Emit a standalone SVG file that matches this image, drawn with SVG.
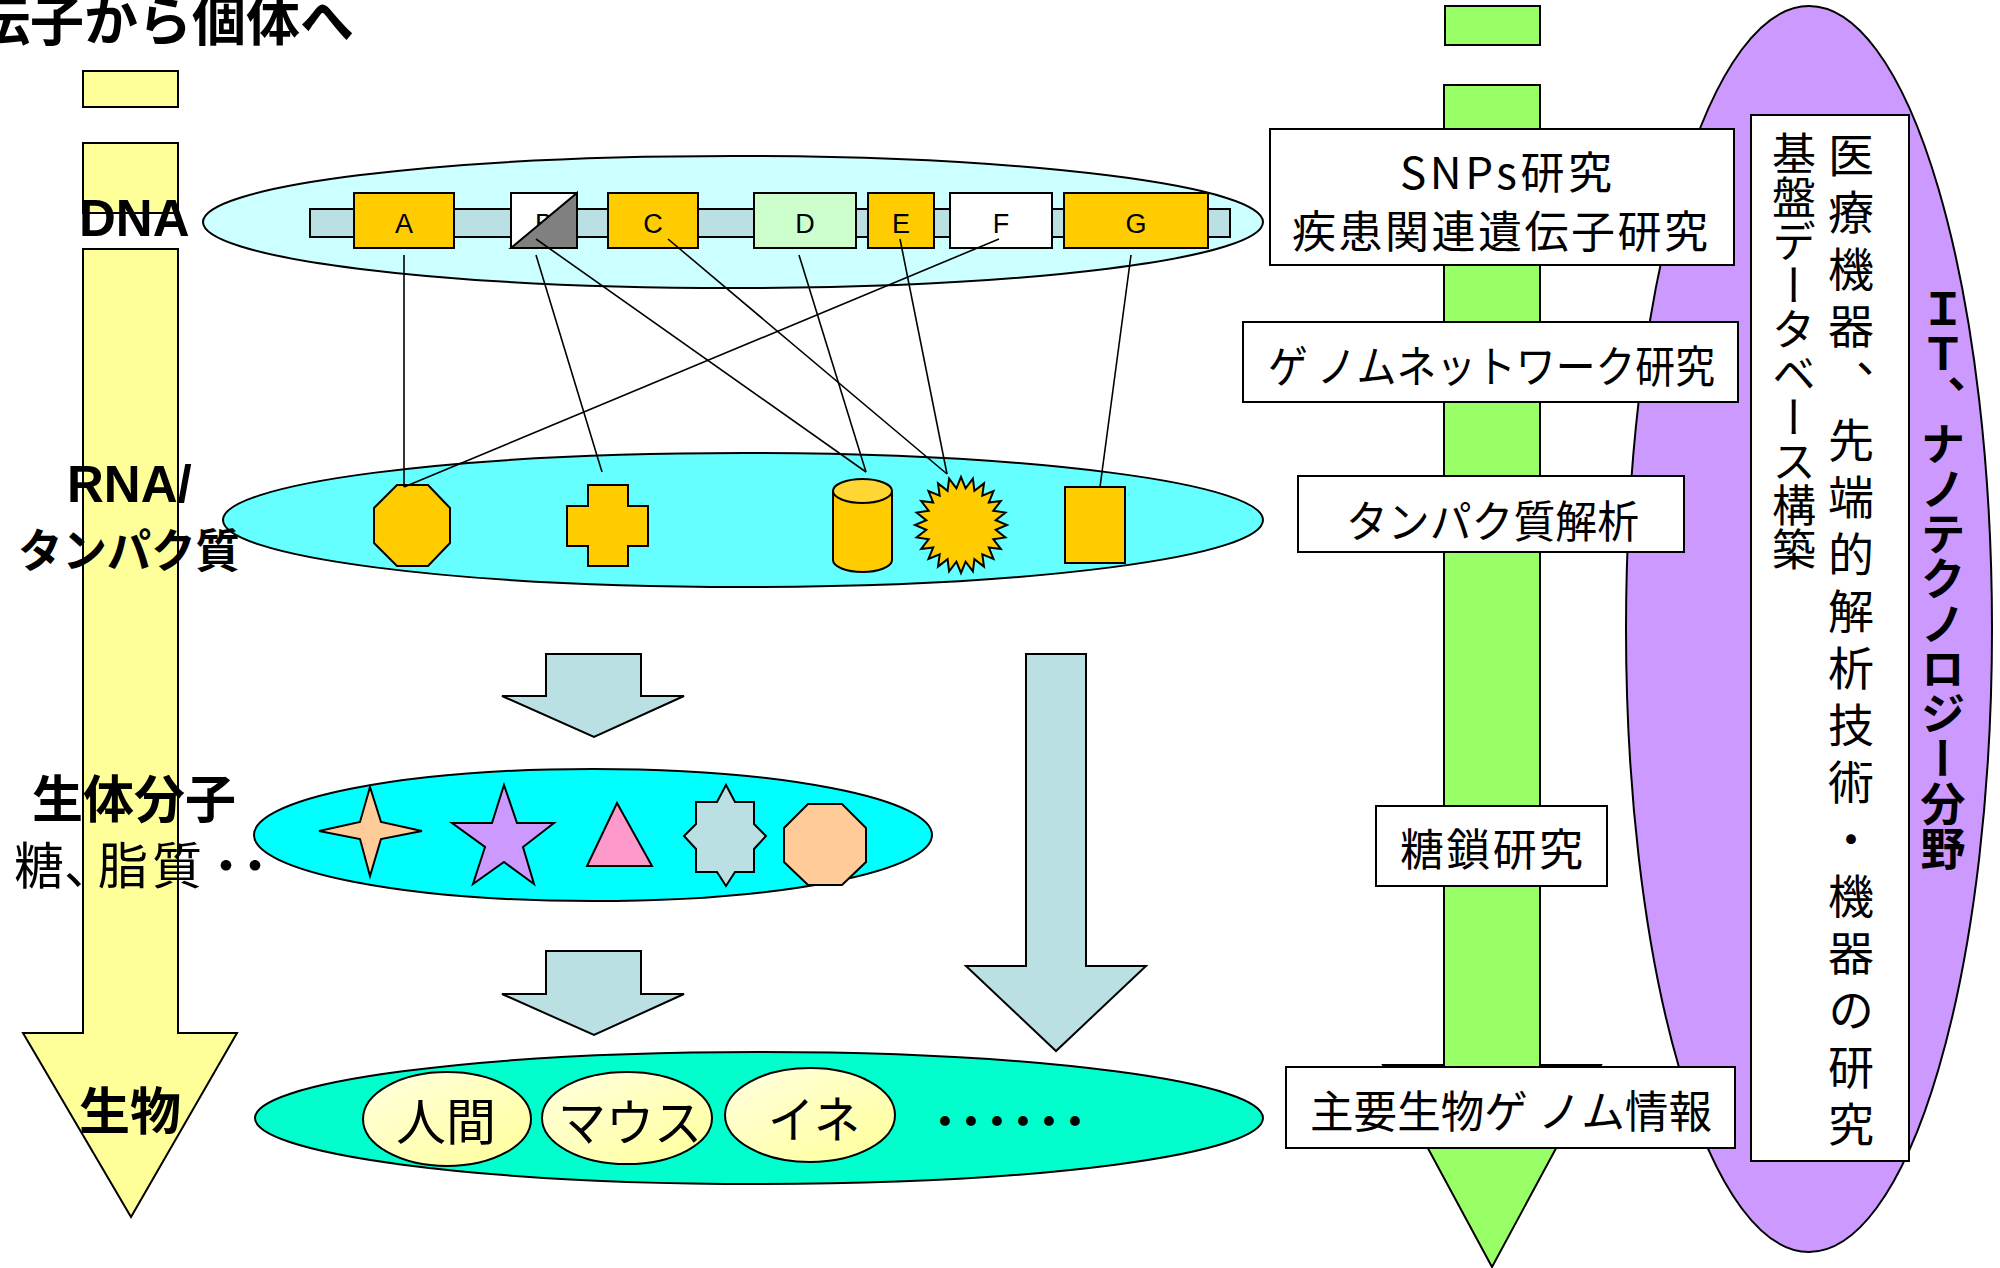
<svg xmlns="http://www.w3.org/2000/svg" width="2000" height="1268" viewBox="0 0 2000 1268">
<style>
.s{stroke:#000;stroke-width:2}
.jp{font-family:"Noto Sans CJK JP","Noto Sans CJK SC",sans-serif;fill:#000}
.b{font-weight:bold}
.lat{font-family:"Liberation Sans",Arial,sans-serif;fill:#000}
.ln{stroke:#000;stroke-width:1.6;fill:none}
.gene{font-family:"Liberation Sans",Arial,sans-serif;font-size:27px;text-anchor:middle;fill:#000}
.box{fill:#fff;stroke:#000;stroke-width:2}
.bt{font-family:"Noto Sans CJK JP","Noto Sans CJK SC",sans-serif;font-size:44px;fill:#000}
.v{writing-mode:vertical-rl}
.yel{fill:#FFFF99;stroke:#000;stroke-width:2}
.grn{fill:#99FF66;stroke:#000;stroke-width:2}
.arr{fill:#BBE0E3;stroke:#000;stroke-width:2}
.org{fill:#FFCC00;stroke:#000;stroke-width:2}
</style>
<defs>
<linearGradient id="cg" x1="0" y1="0" x2="1" y2="1">
<stop offset="0" stop-color="#FFFFE0"/>
<stop offset="1" stop-color="#FFFF99"/>
</linearGradient>
</defs>
<rect width="2000" height="1268" fill="#fff"/>

<g id="title">
<text class="jp b" x="-24" y="41" font-size="54">伝子から個体へ</text>
</g>

<g id="left-axis">
<rect class="yel" x="83" y="71" width="95" height="36"/>
<rect class="yel" x="83" y="143" width="95" height="70"/>
<polygon class="yel" points="83,249 178,249 178,1033 237,1033 131,1217 23,1033 83,1033"/>
</g>

<g id="right-axis">
<polygon class="grn" points="1444,85 1540,85 1540,1065 1601,1065 1492,1267 1383,1065 1444,1065"/>
<rect class="grn" x="1445" y="6" width="95" height="39"/>
</g>

<g id="it-field">
<ellipse cx="1809" cy="629" rx="183" ry="623" fill="#CC99FF" stroke="#000" stroke-width="2"/>
<rect class="box" x="1751" y="115" width="158" height="1046"/>
<text class="jp v" x="1851" y="132" font-size="46" letter-spacing="11">医療機器、先端的解析技術・機器の研究</text>
<text class="jp v" x="1794" y="131" font-size="44">基盤データベース構築</text>
<text class="jp b v" x="1943" y="286" font-size="45">ＩＴ、ナノテクノロジー分野</text>
</g>

<g id="dna">
<ellipse cx="733" cy="222" rx="530" ry="66" fill="#CCFFFF" stroke="#000" stroke-width="2"/>
<rect x="310" y="209" width="920" height="28" fill="#BBE0E3" stroke="#000" stroke-width="2"/>
<rect class="org" x="354" y="193" width="100" height="55"/>
<text class="gene" x="404" y="233">A</text>
<rect x="511" y="193" width="66" height="55" fill="#fff" stroke="#000" stroke-width="2"/>
<text class="gene" x="544" y="233">B</text>
<polygon points="577,193 577,248 511,248" fill="#808080" stroke="#000" stroke-width="2"/>
<rect class="org" x="608" y="193" width="90" height="55"/>
<text class="gene" x="653" y="233">C</text>
<rect x="754" y="193" width="102" height="55" fill="#CCFFCC" stroke="#000" stroke-width="2"/>
<text class="gene" x="805" y="233">D</text>
<rect class="org" x="868" y="193" width="66" height="55"/>
<text class="gene" x="901" y="233">E</text>
<rect x="950" y="193" width="102" height="55" fill="#fff" stroke="#000" stroke-width="2"/>
<text class="gene" x="1001" y="233">F</text>
<rect class="org" x="1064" y="193" width="144" height="55"/>
<text class="gene" x="1136" y="233">G</text>
</g>

<g id="rna">
<ellipse cx="743" cy="520" rx="520" ry="67" fill="#66FFFF" stroke="#000" stroke-width="2"/>
<polygon class="org" points="397,485 428,485 450,508 450,543 428,566 397,566 374,543 374,508"/>
<polygon class="org" points="588,485 628,485 628,506 648,506 648,546 628,546 628,566 588,566 588,546 567,546 567,506 588,506"/>
<path class="org" d="M833,491 L833,560 A29.5,12 0 0 0 892,560 L892,491"/>
<ellipse cx="862.5" cy="491" rx="29.5" ry="12" fill="#FFD633" stroke="#000" stroke-width="2"/>
<polygon class="org" points="961,477 965.6,488.3 972.9,478.6 974.4,490.8 984,483.4 982.3,495.6 993.5,491.1 988.8,502.5 1000.8,501 993.3,510.8 1005.4,512.6 995.7,520.2 1007,525 995.7,529.8 1005.4,537.4 993.3,539.2 1000.8,549 988.8,547.5 993.5,558.9 982.3,554.4 984,566.6 974.4,559.2 972.9,571.4 965.6,561.7 961,573 956.4,561.7 949.1,571.4 947.6,559.2 938,566.6 939.7,554.4 928.5,558.9 933.2,547.5 921.2,549 928.7,539.2 916.6,537.4 926.3,529.8 915,525 926.3,520.2 916.6,512.6 928.7,510.8 921.2,501 933.2,502.5 928.5,491.1 939.7,495.6 938,483.4 947.6,490.8 949.1,478.6 956.4,488.3"/>
<rect class="org" x="1065" y="487" width="60" height="76"/>
</g>

<g id="connectors">
<line class="ln" x1="404" y1="255" x2="404" y2="487"/>
<line class="ln" x1="536" y1="255" x2="602" y2="472"/>
<line class="ln" x1="536" y1="239" x2="866" y2="472"/>
<line class="ln" x1="668" y1="239" x2="947" y2="474"/>
<line class="ln" x1="799" y1="255" x2="866" y2="472"/>
<line class="ln" x1="900" y1="239" x2="947" y2="474"/>
<line class="ln" x1="999" y1="239" x2="404" y2="487"/>
<line class="ln" x1="1131" y1="255" x2="1100" y2="487"/>
</g>

<g id="arrows">
<polygon class="arr" points="546,654 641,654 641,696 684,696 594,737 502,696 546,696"/>
<polygon class="arr" points="546,951 641,951 641,994 684,994 594,1035 502,994 546,994"/>
<polygon class="arr" points="1026,654 1086,654 1086,966 1146,966 1056,1051 966,966 1026,966"/>
</g>

<g id="biomolecules">
<ellipse cx="593" cy="835" rx="339" ry="66" fill="#00FFFF" stroke="#000" stroke-width="2"/>
<polygon points="370,787 381,822 422,831 381,839 370,876 360,839 319,831 360,822" fill="#FFCC99" stroke="#000" stroke-width="2"/>
<polygon points="504,785 517,823 554,823 523,847 534,884 504,862 473,884 485,847 452,823 492,823" fill="#CC99FF" stroke="#000" stroke-width="2"/>
<polygon points="617,803 652,866 587,866" fill="#FF99CC" stroke="#000" stroke-width="2"/>
<polygon points="696,802 717,802 726,785 735,802 754,802 754,824 766,836 754,849 754,872 735,872 726,886 717,872 696,872 696,849 684,836 696,824" fill="#BBE0E3" stroke="#000" stroke-width="2"/>
<polygon points="808,804 842,804 866,828 866,862 842,885 808,885 784,862 784,828" fill="#FFCC99" stroke="#000" stroke-width="2"/>
</g>

<g id="organisms">
<ellipse cx="759" cy="1118" rx="504" ry="66" fill="#00FFCC" stroke="#000" stroke-width="2"/>
<ellipse cx="447" cy="1119" rx="84" ry="47" fill="url(#cg)" stroke="#000" stroke-width="2"/>
<text class="jp" x="446" y="1140" font-size="50" text-anchor="middle">人間</text>
<ellipse cx="627" cy="1118" rx="85" ry="46" fill="url(#cg)" stroke="#000" stroke-width="2"/>
<text class="jp" x="558" y="1141" font-size="50" textLength="144" lengthAdjust="spacingAndGlyphs">マウス</text>
<ellipse cx="810" cy="1115" rx="85" ry="47" fill="url(#cg)" stroke="#000" stroke-width="2"/>
<text class="jp" x="768" y="1138" font-size="50" textLength="92" lengthAdjust="spacingAndGlyphs">イネ</text>
<text class="jp b" x="926" y="1135" font-size="38" letter-spacing="-12">・・・・・・</text>
</g>

<g id="labels">
<text class="lat b" x="79" y="236" font-size="51">DNA</text>
<text class="lat b" x="67" y="502" font-size="51">RNA/</text>
<text class="jp b" x="18" y="567" font-size="46" textLength="222" lengthAdjust="spacingAndGlyphs">タンパク質</text>
<text class="jp b" x="32" y="818" font-size="51">生体分子</text>
<text class="jp" x="14 64 98 152 201 230" y="884" font-size="50">糖、脂質・・</text>
<text class="jp b" x="79" y="1130" font-size="51">生物</text>
</g>

<g id="research-boxes">
<g id="box-snps">
<rect class="box" x="1270" y="129" width="464" height="136"/>
<text class="bt" x="1400" y="189" textLength="212" lengthAdjust="spacing">SNPs研究</text>
<text class="bt" x="1292" y="248" textLength="416" lengthAdjust="spacing">疾患関連遺伝子研究</text>
</g>
<g id="box-network">
<rect class="box" x="1243" y="322" width="495" height="80"/>
<text class="bt" x="1268" y="383" textLength="447" lengthAdjust="spacingAndGlyphs">ゲ ノムネットワーク研究</text>
</g>
<g id="box-protein">
<rect class="box" x="1298" y="476" width="386" height="76"/>
<text class="bt" x="1346" y="538" textLength="293" lengthAdjust="spacingAndGlyphs">タンパク質解析</text>
</g>
<g id="box-sugar">
<rect class="box" x="1376" y="806" width="231" height="80"/>
<text class="bt" x="1400" y="866" textLength="183" lengthAdjust="spacing">糖鎖研究</text>
</g>
<g id="box-genome">
<rect class="box" x="1286" y="1067" width="449" height="81"/>
<text class="bt" x="1310" y="1128" textLength="402" lengthAdjust="spacingAndGlyphs">主要生物ゲ ノム情報</text>
</g>
</g>
</svg>
